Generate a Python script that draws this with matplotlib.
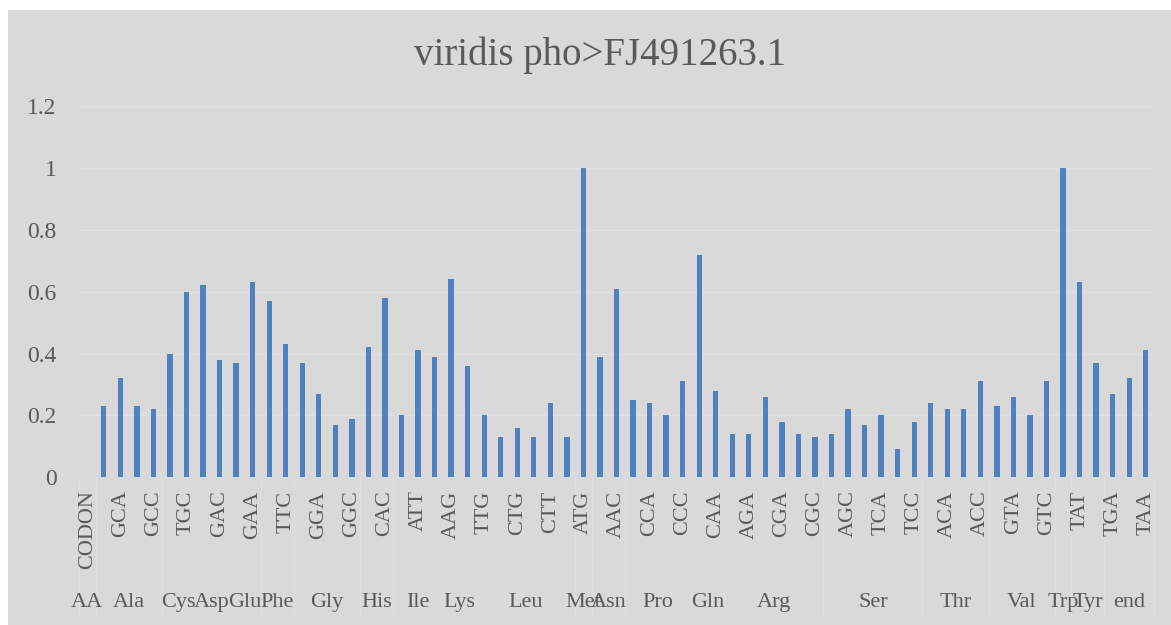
import numpy as np
import matplotlib
matplotlib.use('Agg')
import matplotlib.pyplot as plt
import matplotlib.transforms as mtransforms
from matplotlib.patches import Rectangle

# codon usage (relative adaptiveness), first category is the header column
codons = ['CODON',
          'GCT', 'GCA', 'GCG', 'GCC', 'TGT', 'TGC', 'GAT', 'GAC', 'GAG', 'GAA',
          'TTT', 'TTC', 'GGT', 'GGA', 'GGG', 'GGC', 'CAT', 'CAC', 'ATA', 'ATT',
          'ATC', 'AAG', 'AAA', 'TTG', 'TTA', 'CTG', 'CTA', 'CTT', 'CTC', 'ATG',
          'AAT', 'AAC', 'CCT', 'CCA', 'CCG', 'CCC', 'CAG', 'CAA', 'AGG', 'AGA',
          'CGG', 'CGA', 'CGT', 'CGC', 'AGT', 'AGC', 'TCG', 'TCA', 'TCT', 'TCC',
          'ACT', 'ACA', 'ACG', 'ACC', 'GTT', 'GTA', 'GTG', 'GTC', 'TGG', 'TAT',
          'TAC', 'TGA', 'TAG', 'TAA']

values = [np.nan,
          0.23, 0.32, 0.23, 0.22, 0.40, 0.60, 0.62, 0.38, 0.37, 0.63,
          0.57, 0.43, 0.37, 0.27, 0.17, 0.19, 0.42, 0.58, 0.20, 0.41,
          0.39, 0.64, 0.36, 0.20, 0.13, 0.16, 0.13, 0.24, 0.13, 1.00,
          0.39, 0.61, 0.25, 0.24, 0.20, 0.31, 0.72, 0.28, 0.14, 0.14,
          0.26, 0.18, 0.14, 0.13, 0.14, 0.22, 0.17, 0.20, 0.09, 0.18,
          0.24, 0.22, 0.22, 0.31, 0.23, 0.26, 0.20, 0.31, 1.00, 0.63,
          0.37, 0.27, 0.32, 0.41]

amino_acids = ['AA', 'Ala', 'Cys', 'Asp', 'Glu', 'Phe', 'Gly', 'His', 'Ile', 'Lys',
               'Leu', 'Met', 'Asn', 'Pro', 'Gln', 'Arg', 'Ser', 'Thr', 'Val', 'Trp',
               'Tyr', 'end']
aa_counts = [1, 4, 2, 2, 2, 2, 4, 2, 3, 2, 6, 1, 2, 4, 2, 6, 6, 4, 4, 1, 2, 3]

title = 'viridis pho>FJ491263.1'

bg = '#D9D9D9'
txt = '#595959'
bar_color = '#4F81BD'
font = ['Liberation Serif', 'DejaVu Serif']

plt.rcParams['font.family'] = font

fig = plt.figure(figsize=(11.71, 6.25), dpi=100)
fig.patch.set_facecolor('white')
fig.patches.append(Rectangle((8 / 1171, 0), 1 - 8 / 1171, 615 / 625,
                             transform=fig.transFigure, facecolor=bg,
                             edgecolor='none', zorder=-10))

ax = fig.add_axes([79 / 1171, (625 - 477.3) / 625, (1154 - 79) / 1171, (477.3 - 106) / 625])
ax.set_facecolor(bg)
ax.patch.set_alpha(0)

x = np.arange(len(codons))
ax.bar(x, values, width=0.32, color=bar_color, zorder=3)

ax.set_xlim(-0.5, len(codons) - 0.5)
ax.set_ylim(0, 1.2)
ax.set_yticks(np.arange(0, 1.21, 0.2))
ax.set_yticklabels([f'{v:g}' for v in np.arange(0, 1.21, 0.2)])
ax.grid(axis='y', color='#E0E0E0', lw=1, zorder=1)
ax.tick_params(axis='y', length=0, pad=16, labelsize=17, labelcolor=txt)

# codon level: every other label, like excel does
ax.set_xticks(x[::2])
ax.set_xticklabels(codons[::2], rotation=90)
ax.tick_params(axis='x', length=0, pad=9.5, labelsize=16, labelcolor=txt)

for s in ax.spines.values():
    s.set_visible(False)

# amino-acid level
trans = mtransforms.blended_transform_factory(ax.transData, ax.transAxes)
start = -0.5
for aa, n in zip(amino_acids, aa_counts):
    ax.text(start + n / 2, -0.338, aa, transform=trans, ha='center', va='center',
            fontsize=16, color=txt, clip_on=False)
    ax.plot([start, start], [0, -0.377], transform=trans, color='#DEDEDE',
            lw=1, clip_on=False, zorder=0)
    start += n
ax.plot([start, start], [0, -0.377], transform=trans, color='#DEDEDE',
        lw=1, clip_on=False, zorder=0)

fig.text(0.5126, (625 - 55) / 625, title, ha='center', va='center',
         fontsize=28, color=txt)

fig.savefig('out.png', dpi=100)
